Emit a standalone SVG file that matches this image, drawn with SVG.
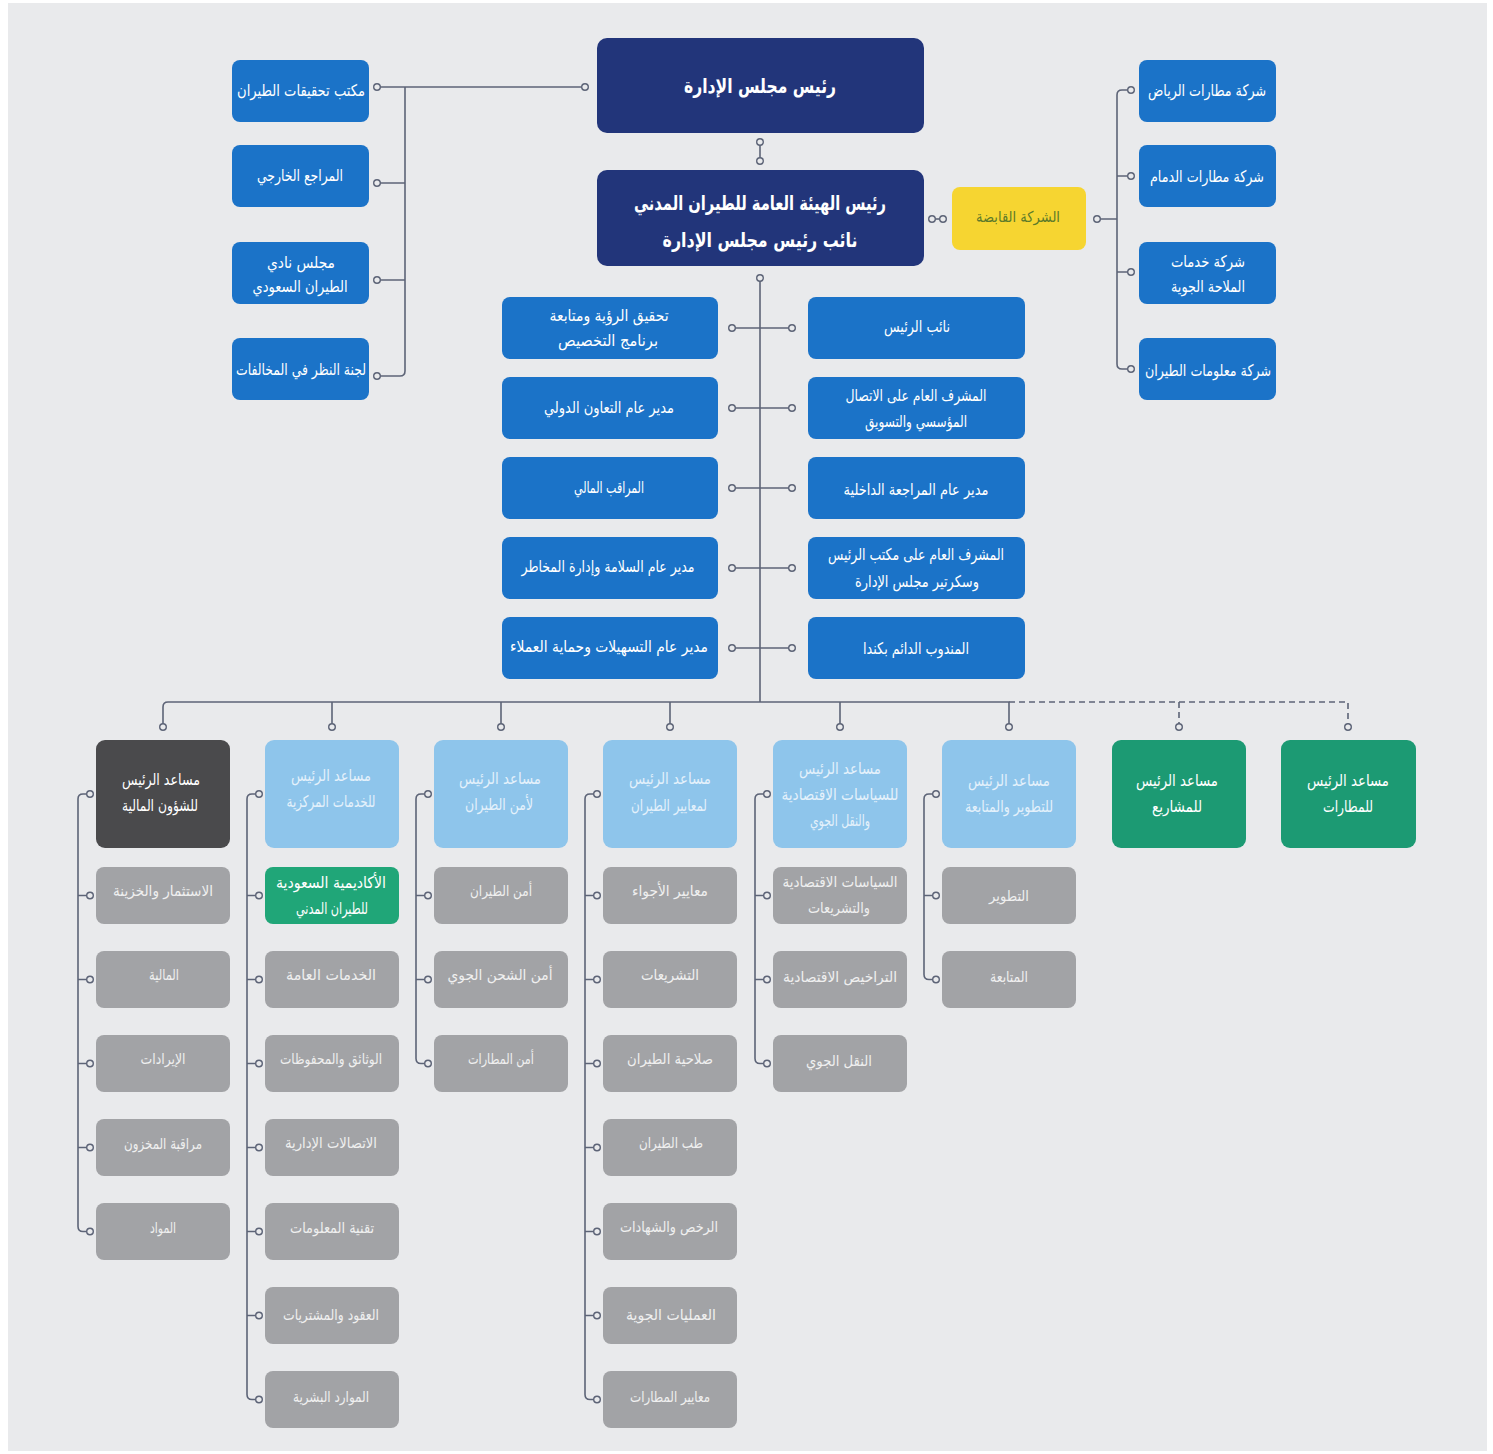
<svg xmlns="http://www.w3.org/2000/svg" width="1493" height="1454" viewBox="0 0 1493 1454">
<style>
.bg{fill:#e9eaec}
.navy{fill:#22357a}
.blue{fill:#1b73c8}
.yel{fill:#f6d531}
.lb{fill:#8ec5eb}
.dk{fill:#4a4a4c}
.gr{fill:#1c9a73}
.gra{fill:#20a678}
.gy{fill:#a2a3a6}
text{font-family:"DejaVu Sans","Noto Sans",sans-serif;text-anchor:middle;dominant-baseline:central;font-weight:normal}
.big{font-size:20px;fill:#ffffff;font-weight:bold}
.w{font-size:16px;fill:#ffffff}
.yt{font-size:15px;fill:#5c7a2a}
.lt{font-size:16px;fill:#e4f1fb}
.hw{font-size:16px;fill:#ffffff}
.gt{font-size:15px;fill:#efefef}
.ln{stroke:#5d6477;stroke-width:1.6;fill:none}
.ds{stroke-dasharray:6 4}
.dot{fill:#e9eaec;stroke:#5d6477;stroke-width:1.4}
</style>
<defs>
<circle id="d" r="3.3" class="dot"/>
</defs>
<rect width="1493" height="1454" fill="#ffffff"/>
<rect x="8" y="3" width="1479" height="1448" class="bg"/>

<g id="connectors">
  <path class="ln" d="M760,142 V161"/>
  <path class="ln" d="M760,278 V702"/>
  <path class="ln" d="M377,87 H585 M405,87 V371 Q405,376 400,376 H377 M405,183 H377 M405,280 H377"/>
  <path class="ln" d="M1131,90 H1122 Q1117,90 1117,95 V364 Q1117,369 1122,369 H1131 M1117,176 H1131 M1117,272 H1131 M1097,219 H1117"/>
  <path class="ln" d="M932,219 H943"/>
  <path class="ln" d="M732,328 H792 M732,408 H792 M732,488 H792 M732,568 H792 M732,648 H792"/>
  <path class="ln" d="M163,727 V707 Q163,702 168,702 H1009 V727 M332,702 V727 M501,702 V727 M670,702 V727 M840,702 V727"/>
  <path class="ln ds" d="M1009,702 H1348 V727 M1179,702 V727"/>
  <path class="ln" d="M90,794 H83 Q78,794 78,799 V1226.5 Q78,1231.5 83,1231.5 H90 M78,895.5 H90 M78,979.5 H90 M78,1063.5 H90 M78,1147.5 H90"/>
  <path class="ln" d="M259,794 H252 Q247,794 247,799 V1394.5 Q247,1399.5 252,1399.5 H259 M247,895.5 H259 M247,979.5 H259 M247,1063.5 H259 M247,1147.5 H259 M247,1231.5 H259 M247,1315.5 H259"/>
  <path class="ln" d="M428,794 H421 Q416,794 416,799 V1058.5 Q416,1063.5 421,1063.5 H428 M416,895.5 H428 M416,979.5 H428"/>
  <path class="ln" d="M597,794 H590 Q585,794 585,799 V1394.5 Q585,1399.5 590,1399.5 H597 M585,895.5 H597 M585,979.5 H597 M585,1063.5 H597 M585,1147.5 H597 M585,1231.5 H597 M585,1315.5 H597"/>
  <path class="ln" d="M767,794 H760 Q755,794 755,799 V1058.5 Q755,1063.5 760,1063.5 H767 M755,895.5 H767 M755,979.5 H767"/>
  <path class="ln" d="M936,794 H929 Q924,794 924,799 V974.5 Q924,979.5 929,979.5 H936 M924,895.5 H936"/>
  <g>
    <use href="#d" x="760" y="142"/><use href="#d" x="760" y="161"/><use href="#d" x="760" y="278"/>
    <use href="#d" x="377" y="87"/><use href="#d" x="585" y="87"/><use href="#d" x="377" y="183"/><use href="#d" x="377" y="280"/><use href="#d" x="377" y="376"/>
    <use href="#d" x="1131" y="90"/><use href="#d" x="1131" y="176"/><use href="#d" x="1131" y="272"/><use href="#d" x="1131" y="369"/><use href="#d" x="1097" y="219"/>
    <use href="#d" x="932" y="219"/><use href="#d" x="943" y="219"/>
    <use href="#d" x="732" y="328"/><use href="#d" x="792" y="328"/>
    <use href="#d" x="732" y="408"/><use href="#d" x="792" y="408"/>
    <use href="#d" x="732" y="488"/><use href="#d" x="792" y="488"/>
    <use href="#d" x="732" y="568"/><use href="#d" x="792" y="568"/>
    <use href="#d" x="732" y="648"/><use href="#d" x="792" y="648"/>
    <use href="#d" x="163" y="727"/><use href="#d" x="332" y="727"/><use href="#d" x="501" y="727"/><use href="#d" x="670" y="727"/>
    <use href="#d" x="840" y="727"/><use href="#d" x="1009" y="727"/><use href="#d" x="1179" y="727"/><use href="#d" x="1348" y="727"/>
    <use href="#d" x="90" y="794"/><use href="#d" x="90" y="895.5"/><use href="#d" x="90" y="979.5"/><use href="#d" x="90" y="1063.5"/><use href="#d" x="90" y="1147.5"/><use href="#d" x="90" y="1231.5"/>
    <use href="#d" x="259" y="794"/><use href="#d" x="259" y="895.5"/><use href="#d" x="259" y="979.5"/><use href="#d" x="259" y="1063.5"/><use href="#d" x="259" y="1147.5"/><use href="#d" x="259" y="1231.5"/><use href="#d" x="259" y="1315.5"/><use href="#d" x="259" y="1399.5"/>
    <use href="#d" x="428" y="794"/><use href="#d" x="428" y="895.5"/><use href="#d" x="428" y="979.5"/><use href="#d" x="428" y="1063.5"/>
    <use href="#d" x="597" y="794"/><use href="#d" x="597" y="895.5"/><use href="#d" x="597" y="979.5"/><use href="#d" x="597" y="1063.5"/><use href="#d" x="597" y="1147.5"/><use href="#d" x="597" y="1231.5"/><use href="#d" x="597" y="1315.5"/><use href="#d" x="597" y="1399.5"/>
    <use href="#d" x="767" y="794"/><use href="#d" x="767" y="895.5"/><use href="#d" x="767" y="979.5"/><use href="#d" x="767" y="1063.5"/>
    <use href="#d" x="936" y="794"/><use href="#d" x="936" y="895.5"/><use href="#d" x="936" y="979.5"/>
  </g>
</g>

<!-- top -->
<g id="n-chairman"><rect x="597" y="38" width="327" height="95" rx="10" class="navy"/><text x="760" y="86" class="big" textLength="152" lengthAdjust="spacingAndGlyphs">رئيس مجلس الإدارة</text></g>
<g id="n-president"><rect x="597" y="170" width="327" height="96" rx="10" class="navy"/><text x="760" y="203" class="big" textLength="252" lengthAdjust="spacingAndGlyphs">رئيس الهيئة العامة للطيران المدني</text><text x="760" y="240" class="big" textLength="195" lengthAdjust="spacingAndGlyphs">نائب رئيس مجلس الإدارة</text></g>

<!-- left -->
<g id="n-l1"><rect x="232" y="60" width="137" height="62" rx="8" class="blue"/><text x="301" y="90" class="w" textLength="128" lengthAdjust="spacingAndGlyphs">مكتب تحقيقات الطيران</text></g>
<g id="n-l2"><rect x="232" y="145" width="137" height="62" rx="8" class="blue"/><text x="300" y="175" class="w" textLength="86" lengthAdjust="spacingAndGlyphs">المراجع الخارجي</text></g>
<g id="n-l3"><rect x="232" y="242" width="137" height="62" rx="8" class="blue"/><text x="301" y="262" class="w" textLength="68" lengthAdjust="spacingAndGlyphs">مجلس نادي</text><text x="300" y="286" class="w" textLength="95" lengthAdjust="spacingAndGlyphs">الطيران السعودي</text></g>
<g id="n-l4"><rect x="232" y="338" width="137" height="62" rx="8" class="blue"/><text x="301" y="369" class="w" textLength="130" lengthAdjust="spacingAndGlyphs">لجنة النظر في المخالفات</text></g>

<!-- holding + right -->
<g id="n-holding"><rect x="952" y="187" width="134" height="63" rx="8" class="yel"/><text x="1018" y="217" class="yt" textLength="84" lengthAdjust="spacingAndGlyphs">الشركة القابضة</text></g>
<g id="n-r1"><rect x="1139" y="60" width="137" height="62" rx="8" class="blue"/><text x="1207" y="90" class="w" textLength="118" lengthAdjust="spacingAndGlyphs">شركة مطارات الرياض</text></g>
<g id="n-r2"><rect x="1139" y="145" width="137" height="62" rx="8" class="blue"/><text x="1207" y="176" class="w" textLength="114" lengthAdjust="spacingAndGlyphs">شركة مطارات الدمام</text></g>
<g id="n-r3"><rect x="1139" y="242" width="137" height="62" rx="8" class="blue"/><text x="1208" y="261" class="w" textLength="74" lengthAdjust="spacingAndGlyphs">شركة خدمات</text><text x="1208" y="286" class="w" textLength="74" lengthAdjust="spacingAndGlyphs">الملاحة الجوية</text></g>
<g id="n-r4"><rect x="1139" y="338" width="137" height="62" rx="8" class="blue"/><text x="1208" y="370" class="w" textLength="126" lengthAdjust="spacingAndGlyphs">شركة معلومات الطيران</text></g>

<!-- middle left -->
<g id="n-m1"><rect x="502" y="297" width="216" height="62" rx="8" class="blue"/><text x="609" y="315" class="w" textLength="119" lengthAdjust="spacingAndGlyphs">تحقيق الرؤية ومتابعة</text><text x="608" y="340" class="w" textLength="100" lengthAdjust="spacingAndGlyphs">برنامج التخصيص</text></g>
<g id="n-m2"><rect x="502" y="377" width="216" height="62" rx="8" class="blue"/><text x="609" y="407" class="w" textLength="130" lengthAdjust="spacingAndGlyphs">مدير عام التعاون الدولي</text></g>
<g id="n-m3"><rect x="502" y="457" width="216" height="62" rx="8" class="blue"/><text x="609" y="487" class="w" textLength="70" lengthAdjust="spacingAndGlyphs">المراقب المالي</text></g>
<g id="n-m4"><rect x="502" y="537" width="216" height="62" rx="8" class="blue"/><text x="608" y="566" class="w" textLength="173" lengthAdjust="spacingAndGlyphs">مدير عام السلامة وإدارة المخاطر</text></g>
<g id="n-m5"><rect x="502" y="617" width="216" height="62" rx="8" class="blue"/><text x="609" y="646" class="w" textLength="198" lengthAdjust="spacingAndGlyphs">مدير عام التسهيلات وحماية العملاء</text></g>
<!-- middle right -->
<g id="n-m6"><rect x="808" y="297" width="217" height="62" rx="8" class="blue"/><text x="917" y="326" class="w" textLength="66" lengthAdjust="spacingAndGlyphs">نائب الرئيس</text></g>
<g id="n-m7"><rect x="808" y="377" width="217" height="62" rx="8" class="blue"/><text x="916" y="395" class="w" textLength="141" lengthAdjust="spacingAndGlyphs">المشرف العام على الاتصال</text><text x="916" y="421" class="w" textLength="102" lengthAdjust="spacingAndGlyphs">المؤسسي والتسويق</text></g>
<g id="n-m8"><rect x="808" y="457" width="217" height="62" rx="8" class="blue"/><text x="916" y="489" class="w" textLength="145" lengthAdjust="spacingAndGlyphs">مدير عام المراجعة الداخلية</text></g>
<g id="n-m9"><rect x="808" y="537" width="217" height="62" rx="8" class="blue"/><text x="916" y="554" class="w" textLength="176" lengthAdjust="spacingAndGlyphs">المشرف العام على مكتب الرئيس</text><text x="917" y="581" class="w" textLength="124" lengthAdjust="spacingAndGlyphs">وسكرتير مجلس الإدارة</text></g>
<g id="n-m10"><rect x="808" y="617" width="217" height="62" rx="8" class="blue"/><text x="916" y="648" class="w" textLength="106" lengthAdjust="spacingAndGlyphs">المندوب الدائم بكندا</text></g>

<!-- headers -->
<g id="n-h1"><rect x="96" y="740" width="134" height="108" rx="9" class="dk"/><text x="161" y="779" class="hw" textLength="78" lengthAdjust="spacingAndGlyphs">مساعد الرئيس</text><text x="160" y="805" class="hw" textLength="76" lengthAdjust="spacingAndGlyphs">للشؤون المالية</text></g>
<g id="n-h2"><rect x="265" y="740" width="134" height="108" rx="9" class="lb"/><text x="331" y="775" class="lt" textLength="80" lengthAdjust="spacingAndGlyphs">مساعد الرئيس</text><text x="331" y="801" class="lt" textLength="89" lengthAdjust="spacingAndGlyphs">للخدمات المركزية</text></g>
<g id="n-h3"><rect x="434" y="740" width="134" height="108" rx="9" class="lb"/><text x="500" y="778" class="lt" textLength="82" lengthAdjust="spacingAndGlyphs">مساعد الرئيس</text><text x="499" y="804" class="lt" textLength="68" lengthAdjust="spacingAndGlyphs">لأمن الطيران</text></g>
<g id="n-h4"><rect x="603" y="740" width="134" height="108" rx="9" class="lb"/><text x="670" y="778" class="lt" textLength="82" lengthAdjust="spacingAndGlyphs">مساعد الرئيس</text><text x="669" y="805" class="lt" textLength="76" lengthAdjust="spacingAndGlyphs">لمعايير الطيران</text></g>
<g id="n-h5"><rect x="773" y="740" width="134" height="108" rx="9" class="lb"/><text x="840" y="768" class="lt" textLength="82" lengthAdjust="spacingAndGlyphs">مساعد الرئيس</text><text x="840" y="794" class="lt" textLength="117" lengthAdjust="spacingAndGlyphs">للسياسات الاقتصادية</text><text x="840" y="820" class="lt" textLength="60" lengthAdjust="spacingAndGlyphs">والنقل الجوي</text></g>
<g id="n-h6"><rect x="942" y="740" width="134" height="108" rx="9" class="lb"/><text x="1009" y="780" class="lt" textLength="82" lengthAdjust="spacingAndGlyphs">مساعد الرئيس</text><text x="1009" y="806" class="lt" textLength="88" lengthAdjust="spacingAndGlyphs">للتطوير والمتابعة</text></g>
<g id="n-h7"><rect x="1112" y="740" width="134" height="108" rx="9" class="gr"/><text x="1177" y="780" class="hw" textLength="82" lengthAdjust="spacingAndGlyphs">مساعد الرئيس</text><text x="1177" y="806" class="hw" textLength="50" lengthAdjust="spacingAndGlyphs">للمشاريع</text></g>
<g id="n-h8"><rect x="1281" y="740" width="135" height="108" rx="9" class="gr"/><text x="1348" y="780" class="hw" textLength="82" lengthAdjust="spacingAndGlyphs">مساعد الرئيس</text><text x="1348" y="806" class="hw" textLength="50" lengthAdjust="spacingAndGlyphs">للمطارات</text></g>

<!-- column 1 -->
<g id="n-c1a"><rect x="96" y="867" width="134" height="57" rx="8" class="gy"/><text x="163" y="891" class="gt" textLength="100" lengthAdjust="spacingAndGlyphs">الاستثمار والخزينة</text></g>
<g id="n-c1b"><rect x="96" y="951" width="134" height="57" rx="8" class="gy"/><text x="164" y="975" class="gt" textLength="30" lengthAdjust="spacingAndGlyphs">المالية</text></g>
<g id="n-c1c"><rect x="96" y="1035" width="134" height="57" rx="8" class="gy"/><text x="163" y="1059" class="gt" textLength="45" lengthAdjust="spacingAndGlyphs">الإيرادات</text></g>
<g id="n-c1d"><rect x="96" y="1119" width="134" height="57" rx="8" class="gy"/><text x="163" y="1144" class="gt" textLength="78" lengthAdjust="spacingAndGlyphs">مراقبة المخزون</text></g>
<g id="n-c1e"><rect x="96" y="1203" width="134" height="57" rx="8" class="gy"/><text x="163" y="1228" class="gt" textLength="26" lengthAdjust="spacingAndGlyphs">المواد</text></g>

<!-- column 2 -->
<g id="n-c2a"><rect x="265" y="867" width="134" height="57" rx="8" class="gra"/><text x="331" y="882" class="hw" textLength="110" lengthAdjust="spacingAndGlyphs">الأكاديمية السعودية</text><text x="332" y="908" class="hw" textLength="72" lengthAdjust="spacingAndGlyphs">للطيران المدني</text></g>
<g id="n-c2b"><rect x="265" y="951" width="134" height="57" rx="8" class="gy"/><text x="331" y="975" class="gt" textLength="90" lengthAdjust="spacingAndGlyphs">الخدمات العامة</text></g>
<g id="n-c2c"><rect x="265" y="1035" width="134" height="57" rx="8" class="gy"/><text x="331" y="1059" class="gt" textLength="102" lengthAdjust="spacingAndGlyphs">الوثائق والمحفوظات</text></g>
<g id="n-c2d"><rect x="265" y="1119" width="134" height="57" rx="8" class="gy"/><text x="331" y="1143" class="gt" textLength="92" lengthAdjust="spacingAndGlyphs">الاتصالات الإدارية</text></g>
<g id="n-c2e"><rect x="265" y="1203" width="134" height="57" rx="8" class="gy"/><text x="332" y="1228" class="gt" textLength="84" lengthAdjust="spacingAndGlyphs">تقنية المعلومات</text></g>
<g id="n-c2f"><rect x="265" y="1287" width="134" height="57" rx="8" class="gy"/><text x="331" y="1315" class="gt" textLength="96" lengthAdjust="spacingAndGlyphs">العقود والمشتريات</text></g>
<g id="n-c2g"><rect x="265" y="1371" width="134" height="57" rx="8" class="gy"/><text x="331" y="1397" class="gt" textLength="76" lengthAdjust="spacingAndGlyphs">الموارد البشرية</text></g>

<!-- column 3 -->
<g id="n-c3a"><rect x="434" y="867" width="134" height="57" rx="8" class="gy"/><text x="501" y="891" class="gt" textLength="62" lengthAdjust="spacingAndGlyphs">أمن الطيران</text></g>
<g id="n-c3b"><rect x="434" y="951" width="134" height="57" rx="8" class="gy"/><text x="500" y="975" class="gt" textLength="105" lengthAdjust="spacingAndGlyphs">أمن الشحن الجوي</text></g>
<g id="n-c3c"><rect x="434" y="1035" width="134" height="57" rx="8" class="gy"/><text x="501" y="1059" class="gt" textLength="66" lengthAdjust="spacingAndGlyphs">أمن المطارات</text></g>

<!-- column 4 -->
<g id="n-c4a"><rect x="603" y="867" width="134" height="57" rx="8" class="gy"/><text x="670" y="891" class="gt" textLength="76" lengthAdjust="spacingAndGlyphs">معايير الأجواء</text></g>
<g id="n-c4b"><rect x="603" y="951" width="134" height="57" rx="8" class="gy"/><text x="670" y="975" class="gt" textLength="58" lengthAdjust="spacingAndGlyphs">التشريعات</text></g>
<g id="n-c4c"><rect x="603" y="1035" width="134" height="57" rx="8" class="gy"/><text x="670" y="1059" class="gt" textLength="86" lengthAdjust="spacingAndGlyphs">صلاحية الطيران</text></g>
<g id="n-c4d"><rect x="603" y="1119" width="134" height="57" rx="8" class="gy"/><text x="671" y="1143" class="gt" textLength="64" lengthAdjust="spacingAndGlyphs">طب الطيران</text></g>
<g id="n-c4e"><rect x="603" y="1203" width="134" height="57" rx="8" class="gy"/><text x="669" y="1227" class="gt" textLength="98" lengthAdjust="spacingAndGlyphs">الرخص والشهادات</text></g>
<g id="n-c4f"><rect x="603" y="1287" width="134" height="57" rx="8" class="gy"/><text x="671" y="1315" class="gt" textLength="90" lengthAdjust="spacingAndGlyphs">العمليات الجوية</text></g>
<g id="n-c4g"><rect x="603" y="1371" width="134" height="57" rx="8" class="gy"/><text x="670" y="1397" class="gt" textLength="80" lengthAdjust="spacingAndGlyphs">معايير المطارات</text></g>

<!-- column 5 -->
<g id="n-c5a"><rect x="773" y="867" width="134" height="57" rx="8" class="gy"/><text x="840" y="882" class="gt" textLength="115" lengthAdjust="spacingAndGlyphs">السياسات الاقتصادية</text><text x="839" y="908" class="gt" textLength="62" lengthAdjust="spacingAndGlyphs">والتشريعات</text></g>
<g id="n-c5b"><rect x="773" y="951" width="134" height="57" rx="8" class="gy"/><text x="840" y="977" class="gt" textLength="114" lengthAdjust="spacingAndGlyphs">التراخيص الاقتصادية</text></g>
<g id="n-c5c"><rect x="773" y="1035" width="134" height="57" rx="8" class="gy"/><text x="839" y="1061" class="gt" textLength="66" lengthAdjust="spacingAndGlyphs">النقل الجوي</text></g>

<!-- column 6 -->
<g id="n-c6a"><rect x="942" y="867" width="134" height="57" rx="8" class="gy"/><text x="1009" y="896" class="gt" textLength="40" lengthAdjust="spacingAndGlyphs">التطوير</text></g>
<g id="n-c6b"><rect x="942" y="951" width="134" height="57" rx="8" class="gy"/><text x="1009" y="977" class="gt" textLength="38" lengthAdjust="spacingAndGlyphs">المتابعة</text></g>
</svg>
